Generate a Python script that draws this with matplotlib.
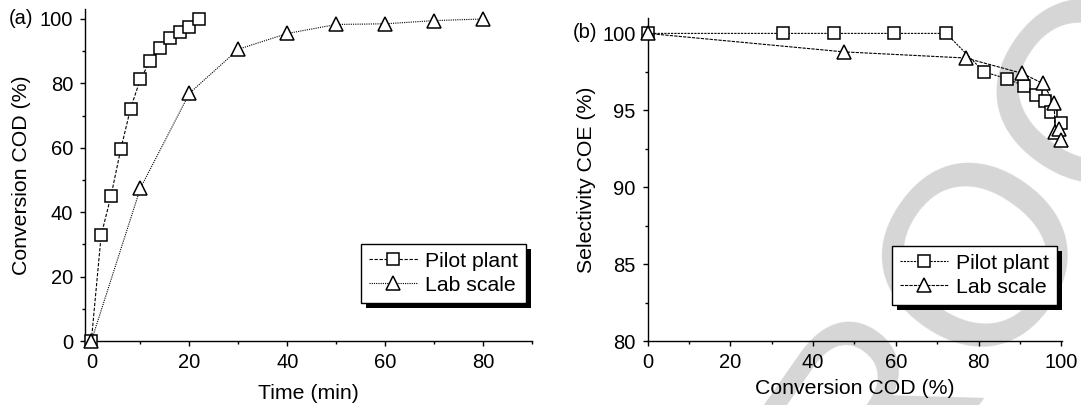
import numpy as np
import matplotlib
matplotlib.use("Agg")
import matplotlib.pyplot as plt
from matplotlib.ticker import MultipleLocator
from matplotlib.patches import Rectangle

plt.rcParams['font.family'] = ['Liberation Sans', 'DejaVu Sans']
plt.rcParams['font.size'] = 15.3

# (a) COD conversion vs time
pilot_time = [0, 2, 4, 6, 8, 10, 12, 14, 16, 18, 20, 22]
pilot_conv = [0, 32.8, 45.0, 59.5, 72.2, 81.3, 86.9, 90.9, 94.0, 96.1, 97.6, 100.0]
lab_time = [0, 10, 20, 30, 40, 50, 60, 70, 80]
lab_conv = [0, 47.4, 76.9, 90.6, 95.5, 98.3, 98.5, 99.5, 100.0]

# (b) COE selectivity vs COD conversion
pilot_sel = [100, 100, 100, 100, 100, 97.5, 97.05, 96.6, 96.0, 95.6, 94.9, 94.2]
lab_sel = [100, 98.8, 98.4, 97.4, 96.75, 95.5, 93.6, 93.8, 93.1]

fig = plt.figure(figsize=(10.81, 4.05), dpi=100)
ax1 = fig.add_axes([0.0786, 0.158, 0.4139, 0.8198])
ax2 = fig.add_axes([0.5991, 0.158, 0.3834, 0.7975])

# grey watermark behind everything
fig.text(0.912, 0.383, 'PROOF', fontsize=185, color='#d6d6d6', rotation=55,
         ha='center', va='center', zorder=-5)

sq = dict(marker='s', ms=8, mfc='white', mec='black', mew=1.1, color='black',
          lw=0.8, clip_on=False, zorder=3)
tri = dict(marker='^', ms=10, mfc='white', mec='black', mew=1.1, color='black',
           lw=0.8, clip_on=False, zorder=3)

ax1.plot(pilot_time, pilot_conv, ls=(0, (3, 1.5)), label='Pilot plant', **sq)
ax1.plot(lab_time, lab_conv, ls=(0, (1, 1)), label='Lab scale', **tri)
ax2.plot(pilot_conv, pilot_sel, ls=(0, (2, 1)), label='Pilot plant', **sq)
ax2.plot(lab_conv, lab_sel, ls=(0, (3, 1)), label='Lab scale', **tri)

ax1.set_xlim(-1.3, 90)
ax1.set_ylim(0, 103.1)
ax1.xaxis.set_major_locator(MultipleLocator(20))
ax1.xaxis.set_minor_locator(MultipleLocator(10))
ax1.yaxis.set_major_locator(MultipleLocator(20))
ax1.yaxis.set_minor_locator(MultipleLocator(10))
ax1.set_xlabel('Time (min)', labelpad=8.5)
ax1.set_ylabel('Conversion COD (%)', labelpad=6)

ax2.set_xlim(0, 100.2)
ax2.set_ylim(80, 101)
ax2.xaxis.set_major_locator(MultipleLocator(20))
ax2.xaxis.set_minor_locator(MultipleLocator(10))
ax2.yaxis.set_major_locator(MultipleLocator(5))
ax2.yaxis.set_minor_locator(MultipleLocator(2.5))
ax2.set_xlabel('Conversion COD (%)', labelpad=5)
ax2.set_ylabel('Selectivity COE (%)', labelpad=5)

for ax in (ax1, ax2):
    ax.patch.set_facecolor('none')
    for s in ('top', 'right'):
        ax.spines[s].set_visible(False)
    for s in ('left', 'bottom'):
        ax.spines[s].set_linewidth(1.0)
    ax.tick_params(which='major', direction='out', length=3.5, width=1.0,
                   labelsize=14.5, pad=5)
    ax.tick_params(which='minor', direction='out', length=2.5, width=1.0)

fig.text(9 / 1081, 1 - 19 / 405, '(a)', fontsize=14.5, ha='left', va='center')
fig.text(573 / 1081, 1 - 33 / 405, '(b)', fontsize=14.5, ha='left', va='center')

shadows = []
for ax, anchor in ((ax1, (0.4866, 0.2519)), (ax2, (0.9778, 0.247))):
    leg = ax.legend(loc='lower right', bbox_to_anchor=anchor,
                    bbox_transform=fig.transFigure, borderaxespad=0,
                    fancybox=False, framealpha=1, edgecolor='black',
                    handlelength=2.3, handletextpad=0.35,
                    labelspacing=0.25, borderpad=0.38)
    leg.get_frame().set_linewidth(1.0)
    leg.set_zorder(6)
    shadows.append((ax, leg))

# solid black drop shadow under each legend box
fig.canvas.draw()
for ax, leg in shadows:
    bb = leg.get_window_extent()
    ax.add_patch(Rectangle((bb.x0 + 5, bb.y0 - 5), bb.width, bb.height,
                           transform=None, facecolor='black', edgecolor='none',
                           zorder=5.5, clip_on=False))

fig.savefig('out.png', dpi=100)
